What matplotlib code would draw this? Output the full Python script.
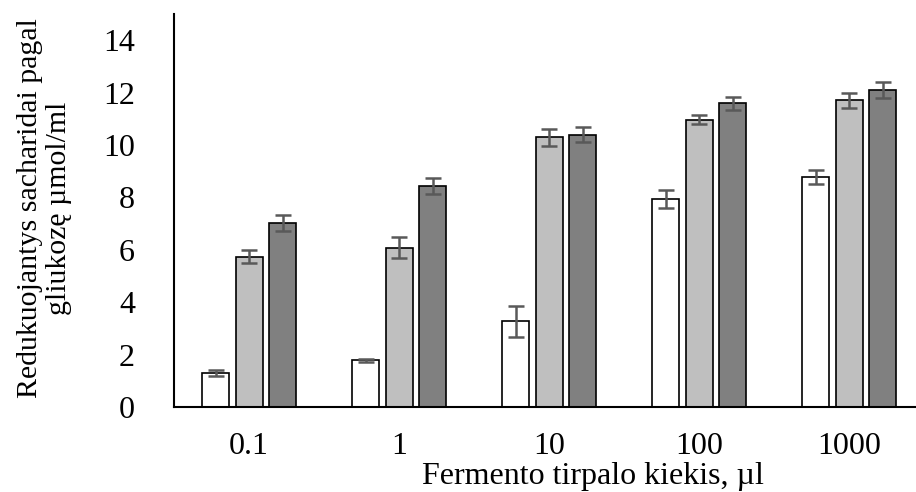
import matplotlib
matplotlib.use("Agg")
import matplotlib.pyplot as plt
import numpy as np

categories = ["0.1", "1", "10", "100", "1000"]
series_a = [1.31, 1.78, 3.27, 7.94, 8.79]
series_b = [5.73, 6.08, 10.29, 10.96, 11.70]
series_c = [7.02, 8.43, 10.40, 11.59, 12.11]
err_a = [0.11, 0.05, 0.58, 0.34, 0.27]
err_b = [0.25, 0.39, 0.32, 0.17, 0.29]
err_c = [0.30, 0.30, 0.30, 0.24, 0.30]
yticks = [0, 2, 4, 6, 8, 10, 12, 14]

plt.rcParams['font.family'] = ['Liberation Serif', 'DejaVu Serif']

W, H = 916, 492
fig = plt.figure(figsize=(W / 100, H / 100), dpi=100)
x0, x1 = 174, 924
y0, y1 = 407, 14
ax = fig.add_axes([x0 / W, 1 - y0 / H, (x1 - x0) / W, (y0 - y1) / H])

x = np.arange(len(categories))
bw = 27 / 150
off = 33.5 / 150
colors = ["#ffffff", "#bfbfbf", "#808080"]
for i, (vals, errs) in enumerate([(series_a, err_a), (series_b, err_b), (series_c, err_c)]):
    ax.bar(x + (i - 1) * off, vals, bw, color=colors[i], edgecolor="#000000",
           linewidth=1.2, zorder=2)
    ax.errorbar(x + (i - 1) * off, vals, yerr=errs, fmt="none", ecolor="#595959",
                elinewidth=1.8, capsize=6, capthick=1.8, zorder=3)

ax.set_xlim(-0.5, len(categories) - 0.5)
ax.set_ylim(0, 15)
ax.set_yticks(yticks)
ax.set_yticklabels([str(t) for t in yticks])
ax.set_xticks(x)
ax.set_xticklabels(categories)
ax.tick_params(axis="both", length=0, labelsize=23)
ax.tick_params(axis="y", pad=28)
ax.tick_params(axis="x", pad=18)
for s in ["top", "right"]:
    ax.spines[s].set_visible(False)
ax.spines["left"].set_linewidth(1.5)
ax.spines["bottom"].set_linewidth(1.5)

fig.text(593 / W, 1 - 484 / H, "Fermento tirpalo kiekis, µl", ha="center", va="baseline", fontsize=23)
fig.text(45 / W, 1 - 208 / H, "Redukuojantys sacharidai pagal\ngliukozę µmol/ml", ha="center",
         va="center", rotation=90, fontsize=21.5, linespacing=1.15, multialignment="center")

fig.savefig("out.png", dpi=100)
